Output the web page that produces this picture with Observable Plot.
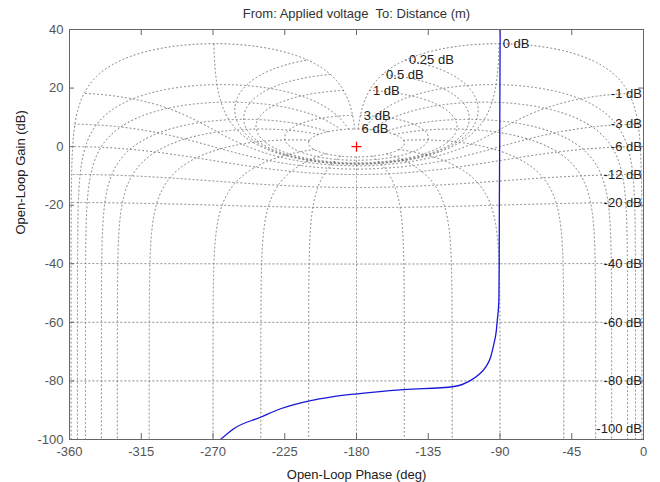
<!DOCTYPE html>
<html><head><meta charset="utf-8">
<script src="https://cdn.jsdelivr.net/npm/d3@7"></script>
<script src="https://cdn.jsdelivr.net/npm/@observablehq/plot@0.6"></script>
<style>body{margin:0;background:#fff}</style>
</head><body><div id="chart"></div>
<script>
// ---- data ----
const titleText = "From: Applied voltage\u00a0 To: Distance (m)";
const xLabel = "Open-Loop Phase (deg)";
const yLabel = "Open-Loop Gain (dB)";
const xTicks = [-360, -315, -270, -225, -180, -135, -90, -45, 0];
const yTicks = [40, 20, 0, -20, -40, -60, -80, -100];

// open-loop response
const respPhase = [-265.3, -257, -240.2, -227.6, -208.8, -196.3, -179.5, -150.3, -118.9, -108.4, -103.2, -99.0, -95.9, -93.8, -92.3, -91.7, -90.7, -90.5, -90.4, -90.2, -89.9];
const respGain  = [-100, -96.3, -92.4, -89.5, -86.7, -85.5, -84.4, -83.0, -81.9, -79.8, -77.8, -75.3, -71.9, -67.3, -62.8, -59.3, -52.5, -40, -20, 0, 40];

// Nichols grid levels (closed-loop gain in dB, closed-loop phase in deg)
const isoGainDb = [6, 3, 1, 0.5, 0.25, 0, -1, -3, -6, -12, -20, -40, -60, -80, -100, -120];
const isoPhaseDeg = [1, 5, 10, 20, 30, 50, 90, 120, 150, 180, 210, 240, 270, 310, 330, 340, 350, 355, 359];
const criticalPhase = [-180];
const criticalGain = [0];

// ---- grid geometry ----
function openLoop(gDb, pDeg) {
  const m = Math.pow(10, gDb / 20), t = -pDeg * Math.PI / 180;
  const a = m * Math.cos(t), b = m * Math.sin(t);
  const c = 1 - a, d = -b, den = c * c + d * d;
  const re = (a * c + b * d) / den, im = (b * c - a * d) / den;
  let ph = Math.atan2(im, re) * 180 / Math.PI;
  if (ph > 0) ph -= 360;
  return {phase: ph, gain: 20 * Math.log10(Math.hypot(re, im))};
}
const pSweep = d3.merge([d3.range(1, 10, 0.02), d3.range(10, 350, 0.2), d3.range(350, 359, 0.02), [359]]);
const gSweep = d3.merge([d3.range(6, 2, -0.05), d3.range(2, -2, -0.002), d3.range(-2, -120, -0.1), [-120]]);

const gridRows = [];
isoGainDb.forEach((g, i) => pSweep.forEach(p => gridRows.push({...openLoop(g, p), id: "g" + i})));
isoPhaseDeg.forEach((p, i) => gSweep.forEach(g => gridRows.push({...openLoop(g, p), id: "p" + i})));

const posLabels = isoGainDb.filter(g => g >= 0).map(g => ({...openLoop(g, 1), text: g + " dB"}));
const negLabels = isoGainDb.filter(g => g < 0 && g >= -100).map(g => ({gain: Math.max(openLoop(g, 1).gain, -96.3), text: g + " dB"}));

const response = respPhase.map((p, i) => ({phase: p, gain: respGain[i]}));
const critical = criticalPhase.map((p, i) => ({phase: p, gain: criticalGain[i]}));

const plusSymbol = {draw(ctx, size) { const r = Math.sqrt(size / Math.PI); ctx.moveTo(-r, 0); ctx.lineTo(r, 0); ctx.moveTo(0, -r); ctx.lineTo(0, r); }};
const fmt = d => String(d);
const axisColor = "#666";

const chart = Plot.plot({
  width: 660, height: 482,
  marginTop: 29, marginLeft: 69, marginRight: 17, marginBottom: 43,
  x: {domain: [-360, 0]},
  y: {domain: [-100, 40]},
  style: {fontFamily: "'Liberation Sans', Arial, Helvetica, sans-serif", fontSize: "13px", background: "#fff", color: "#444"},
  marks: [
    Plot.line(gridRows, {x: "phase", y: "gain", z: "id", stroke: "#707070", strokeWidth: 1, strokeDasharray: "1,3", clip: true}),
    Plot.text(posLabels, {x: "phase", y: "gain", text: "text", textAnchor: "start", dx: 3.5, fill: "#222"}),
    Plot.text(negLabels, {x: () => -1, y: "gain", text: "text", textAnchor: "end", fill: "#222"}),
    Plot.line(response, {x: "phase", y: "gain", stroke: "#1818d8", strokeWidth: 1.3, curve: "monotone-x", clip: true}),
    Plot.dot(critical, {x: "phase", y: "gain", symbol: plusSymbol, r: 5, stroke: "red", fill: "none", strokeWidth: 1.2}),
    Plot.frame({stroke: axisColor}),
    Plot.tickX(xTicks, {x: d => d, insetTop: 404, stroke: axisColor}),
    Plot.tickX(xTicks, {x: d => d, insetBottom: 404, stroke: axisColor}),
    Plot.tickY(yTicks, {y: d => d, insetRight: 569, stroke: axisColor}),
    Plot.tickY(yTicks, {y: d => d, insetLeft: 569, stroke: axisColor}),
    Plot.axisX(xTicks, {anchor: "bottom", tickSize: 0, tickPadding: 7, tickFormat: fmt, label: null, fill: "#555"}),
    Plot.axisY(yTicks, {anchor: "left", tickSize: 0, tickPadding: 6, tickFormat: fmt, label: null, fill: "#555"}),
    Plot.text([titleText], {text: d => d, frameAnchor: "top", dy: -16, lineAnchor: "middle", fill: "#333"}),
    Plot.text([xLabel], {text: d => d, frameAnchor: "bottom", dy: 35, lineAnchor: "middle", fill: "#222"}),
    Plot.text([yLabel], {text: d => d, frameAnchor: "left", dx: -49, rotate: -90, lineAnchor: "middle", fill: "#222"})
  ]
});
document.getElementById("chart").appendChild(chart);
</script>
</body></html>
